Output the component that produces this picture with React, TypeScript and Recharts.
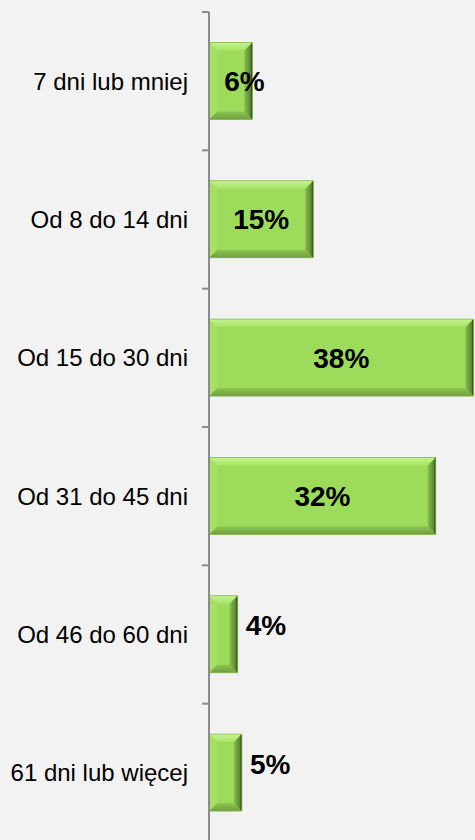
import { BarChart, Bar, XAxis, YAxis, LabelList } from "recharts";

const categories = [
  "7 dni lub mniej",
  "Od 8 do 14 dni",
  "Od 15 do 30 dni",
  "Od 31 do 45 dni",
  "Od 46 do 60 dni",
  "61 dni lub więcej",
];
const shares = [6.2, 14.9, 37.8, 32.4, 4.1, 4.7];
// where each value label sits: on the bar end, centred in the bar, or past the bar
const labelPlacement = ["end", "center", "center", "center", "outside", "outside"];

const W = 475;
const H = 842;
const TOP = 12;
const AXIS_W = 209;
const FONT = '"Liberation Sans", Arial, sans-serif';

const data = categories.map((name, i) => ({ name, value: shares[i], place: labelPlacement[i] }));
const band = (H - TOP) / categories.length;

function CategoryTick(props: any) {
  const { x, y, payload, index } = props;
  const axisX = x + 21;
  return (
    <g>
      <line x1={axisX - 7} x2={axisX} y1={y - band / 2} y2={y - band / 2} stroke="#8c8c8c" strokeWidth={2} />
      {index === categories.length - 1 && (
        <line x1={axisX - 7} x2={axisX} y1={y + band / 2} y2={y + band / 2} stroke="#8c8c8c" strokeWidth={2} />
      )}
      <text x={x} y={y} dy="0.36em" textAnchor="end" fontSize={24} fontFamily={FONT} fill="#000">
        {payload.value}
      </text>
    </g>
  );
}

function BevelBar(props: any) {
  const { x, y, width, height } = props;
  if (!width || width <= 0) return null;
  const b = Math.min(8, width / 2);
  const r = x + width;
  const bt = y + height;
  return (
    <g>
      <rect x={x} y={y} width={width} height={height} fill="#9ddb5b" />
      {/* top */}
      <polygon points={`${x},${y} ${r},${y} ${r - b},${y + b} ${x + b},${y + b}`} fill="url(#bevTop)" />
      {/* bottom */}
      <polygon points={`${x},${bt} ${r},${bt} ${r - b},${bt - b} ${x + b},${bt - b}`} fill="url(#bevBot)" />
      {/* left */}
      <polygon points={`${x},${y} ${x + b},${y + b} ${x + b},${bt - b} ${x},${bt}`} fill="#a6e166" />
      {/* right */}
      <polygon points={`${r},${y} ${r - b},${y + b} ${r - b},${bt - b} ${r},${bt}`} fill="url(#bevRight)" />
      <line x1={r - 0.75} x2={r - 0.75} y1={y + 1} y2={bt - 1} stroke="#3b561f" strokeWidth={1.5} />
      <rect x={x} y={y} width={width} height={height} fill="none" stroke="#86b84f" strokeWidth={0.8} />
    </g>
  );
}

function ValueLabel(props: any) {
  const { x, y, width, height, value, index } = props;
  const place = labelPlacement[index];
  const cy = y + height / 2;
  const end = x + width;
  const text = `${Math.round(value)}%`;
  let tx = x + width / 2;
  let ty = cy;
  let anchor: "middle" | "start" = "middle";
  if (place === "end") tx = end - 8;
  if (place === "outside") {
    tx = end + 8;
    ty = cy - 9;
    anchor = "start";
  }
  return (
    <text x={tx} y={ty} dy="0.36em" textAnchor={anchor} fontSize={28} fontWeight="bold" fontFamily={FONT} fill="#000">
      {text}
    </text>
  );
}

export default function App() {
  return (
    <div
      style={{
        position: "absolute",
        left: 0,
        top: 0,
        width: W,
        height: 840,
        overflow: "hidden",
        background: "#f2f2f2",
      }}
    >
      <BarChart
        width={W}
        height={H}
        layout="vertical"
        data={data}
        barCategoryGap="22%"
        margin={{ top: TOP, right: 0, bottom: 0, left: 0 }}
      >
        <defs>
          <linearGradient id="bevTop" x1="0" y1="0" x2="0" y2="1">
            <stop offset="0%" stopColor="#c6f38f" />
            <stop offset="100%" stopColor="#a8e468" />
          </linearGradient>
          <linearGradient id="bevBot" x1="0" y1="1" x2="0" y2="0">
            <stop offset="0%" stopColor="#6f9e3e" />
            <stop offset="100%" stopColor="#8cc650" />
          </linearGradient>
          <linearGradient id="bevRight" x1="1" y1="0" x2="0" y2="0">
            <stop offset="0%" stopColor="#4f752b" />
            <stop offset="100%" stopColor="#86bd4d" />
          </linearGradient>
        </defs>
        <XAxis type="number" domain={[0, 38]} hide />
        <YAxis
          type="category"
          dataKey="name"
          width={AXIS_W}
          interval={0}
          tickLine={false}
          tickSize={7}
          tickMargin={14}
          axisLine={{ stroke: "#8c8c8c", strokeWidth: 2 }}
          tick={<CategoryTick />}
        />
        <Bar dataKey="value" shape={<BevelBar />} isAnimationActive={false}>
          <LabelList dataKey="value" content={<ValueLabel />} />
        </Bar>
      </BarChart>
    </div>
  );
}
